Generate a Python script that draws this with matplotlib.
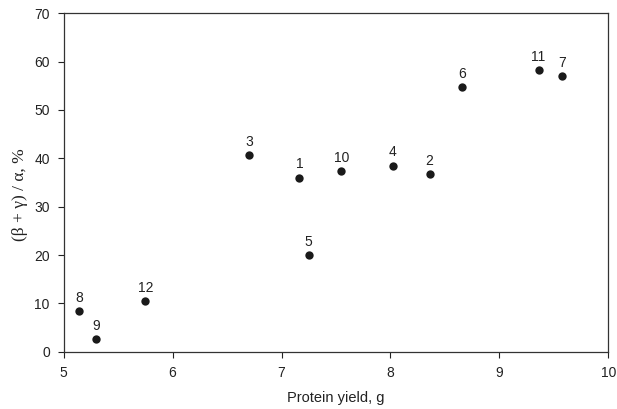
import matplotlib
matplotlib.use("Agg")
import matplotlib.pyplot as plt

labels = ["8", "9", "12", "3", "1", "5", "10", "4", "2", "6", "11", "7"]
protein_yield = [5.14, 5.30, 5.75, 6.70, 7.165, 7.25, 7.55, 8.02, 8.36, 8.66, 9.36, 9.575]
ratio = [8.4, 2.6, 10.5, 40.6, 36.0, 20.0, 37.4, 38.5, 36.8, 54.8, 58.2, 57.0]

plt.rcParams['font.family'] = ['Liberation Sans', 'DejaVu Sans']

fig = plt.figure(figsize=(6.17, 4.09), dpi=100)
ax = fig.add_axes([0.1032, 0.1401, 0.8827, 0.8274])

ax.scatter(protein_yield, ratio, s=36, color='#1a1a1a', zorder=3, linewidths=0)
for x, y, t in zip(protein_yield, ratio, labels):
    ax.annotate(t, (x, y), xytext=(0, 4.5), textcoords='offset points',
                ha='center', va='bottom', fontsize=10, color='#222222')

ax.set_xlim(5, 10)
ax.set_ylim(0, 70)
ax.set_xticks([5, 6, 7, 8, 9, 10])
ax.set_yticks([0, 10, 20, 30, 40, 50, 60, 70])
ax.tick_params(direction='out', length=4, width=0.8, labelsize=10, colors='#222222', pad=6)
for sp in ax.spines.values():
    sp.set_color('#333333')
    sp.set_linewidth(0.9)

ax.set_xlabel('Protein yield, g', fontsize=10.5, color='#222222', labelpad=8)
ax.set_ylabel('(β + γ) / α, %', fontsize=12.5, color='#222222', family=['Liberation Serif', 'DejaVu Serif'])
ax.yaxis.set_label_coords(-0.066, 0.463)

fig.savefig('out.png', dpi=100)
